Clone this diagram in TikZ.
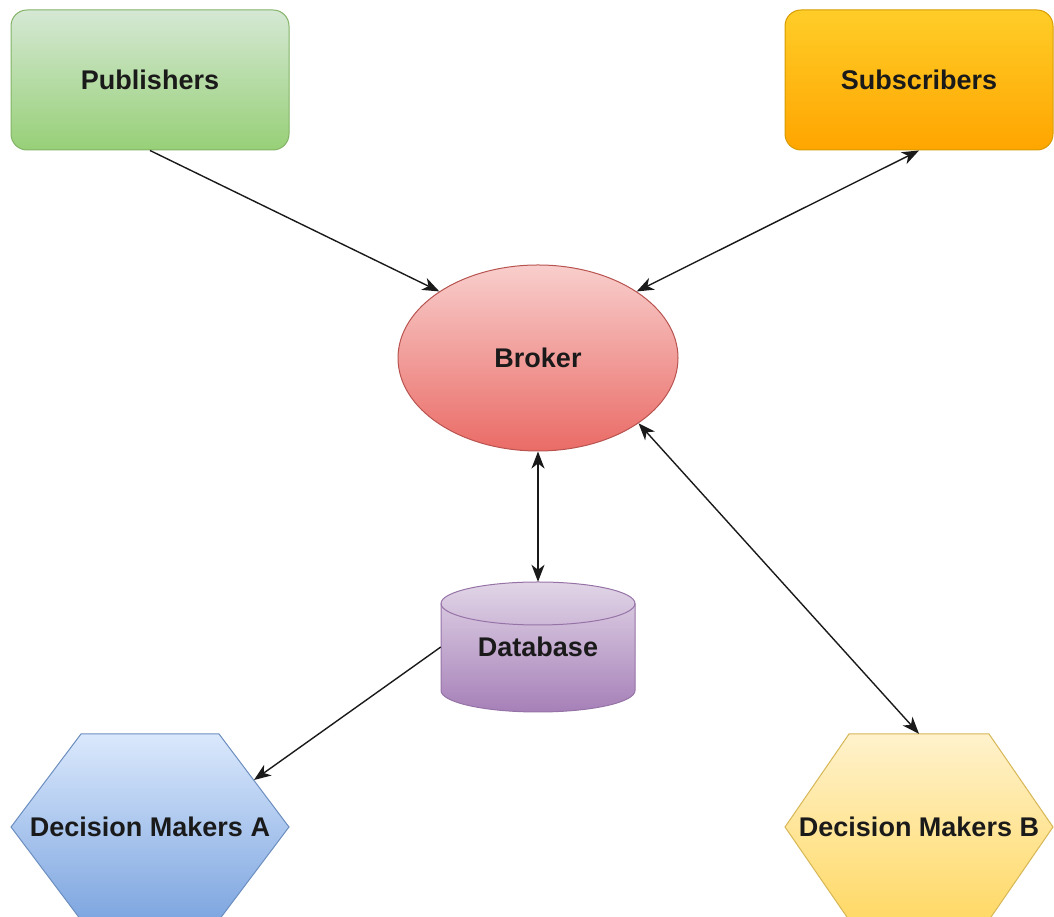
\documentclass[tikz,border=0pt]{standalone}
\usepackage{fontspec}
\setmainfont{Liberation Sans}
\usetikzlibrary{shapes.geometric,arrows.meta}
\definecolor{pubT}{HTML}{D5E8D4}
\definecolor{pubD}{HTML}{97D077}
\definecolor{pubB}{HTML}{82B366}
\definecolor{subT}{HTML}{FFCD28}
\definecolor{subD}{HTML}{FFA500}
\definecolor{subB}{HTML}{D79B00}
\definecolor{brkT}{HTML}{F8CECC}
\definecolor{brkD}{HTML}{EA6B66}
\definecolor{brkB}{HTML}{B85450}
\definecolor{dbT}{HTML}{E1D5E7}
\definecolor{dbD}{HTML}{A680B8}
\definecolor{dbB}{HTML}{9673A6}
\definecolor{dmaT}{HTML}{DAE8FC}
\definecolor{dmaD}{HTML}{7EA6E0}
\definecolor{dmaB}{HTML}{6C8EBF}
\definecolor{dmbT}{HTML}{FFF2CC}
\definecolor{dmbD}{HTML}{FFD966}
\definecolor{dmbB}{HTML}{D6B656}
\definecolor{txt}{HTML}{1A1A1A}
\begin{document}
\begin{tikzpicture}[x=1pt,y=1pt,
  >={Stealth[length=17pt,width=13pt,inset=5pt]},
  lbl/.style={font=\fontsize{27}{32}\selectfont\bfseries, text=txt, inner sep=0pt},
  roundbox/.style={lbl, rectangle, rounded corners=16pt, line width=1pt, minimum height=140pt},
  shapeline/.style={line width=1pt},
  conn/.style={line width=1.4pt, draw=txt}
]
\useasboundingbox (0,0) rectangle (1054,917);
\node[roundbox, minimum width=278pt, draw=pubB, top color=pubT, bottom color=pubD] (pub) at (150,837) {Publishers};
\node[roundbox, minimum width=268pt, draw=subB, top color=subT, bottom color=subD] (sub) at (919,837) {Subscribers};
\node[lbl, ellipse, minimum width=280pt, minimum height=186pt, shapeline, draw=brkB, top color=brkT, bottom color=brkD] (broker) at (538,559) {Broker};
% database cylinder
\path[shapeline, draw=dbB, top color=dbT, bottom color=dbD]
  (441,313.5) -- (441,226.5) arc[start angle=180,end angle=360,x radius=97,y radius=21.5]
  -- (635,313.5) arc[start angle=0,end angle=180,x radius=97,y radius=21.5] -- cycle;
\draw[shapeline, draw=dbB] (441,313.5) arc[start angle=180,end angle=360,x radius=97,y radius=21.5];
\node[lbl, minimum width=194pt, minimum height=130pt] (db) at (538,270) {Database};
% decision makers hexagons
\path[shapeline, draw=dmaB, top color=dmaT, bottom color=dmaD]
  (11,90) -- (81,183) -- (219,183) -- (289,90) -- (219,-3) -- (81,-3) -- cycle;
\node[lbl, minimum width=278pt, minimum height=186pt] (dma) at (150,90) {Decision Makers A};
\coordinate (dmaEdge) at (254,137);
\path[shapeline, draw=dmbB, top color=dmbT, bottom color=dmbD]
  (785,90) -- (849,183) -- (989,183) -- (1053,90) -- (989,-3) -- (849,-3) -- cycle;
\node[lbl, minimum width=268pt, minimum height=186pt] (dmb) at (919,90) {Decision Makers B};
% connectors
\draw[conn,->] (pub.south) -- (broker.146.6);
\draw[conn,<->] (sub.south) -- (broker.34);
\draw[conn,<->] (broker.south) -- (db.north);
\draw[conn,<->] (broker.-33) -- (dmb.north);
\draw[conn,->] (db.west) -- (dmaEdge);
\end{tikzpicture}
\end{document}
